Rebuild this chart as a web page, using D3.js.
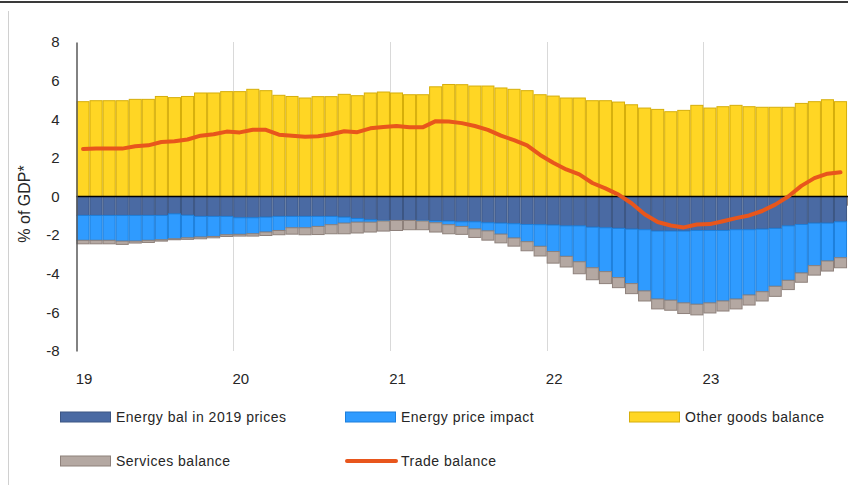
<!DOCTYPE html>
<html>
<head>
<meta charset="utf-8">
<script src="https://cdn.jsdelivr.net/npm/d3@7"></script>
<style>
    html, body { margin: 0; padding: 0; background: #fff; }
    svg { display: block; }
</style>
</head>
<body>
<div id="chart"></div>
<script>

const months = [
    '19-01', '19-02', '19-03', '19-04', '19-05', '19-06', '19-07', '19-08', '19-09', '19-10', '19-11', '19-12',
    '20-01', '20-02', '20-03', '20-04', '20-05', '20-06', '20-07', '20-08', '20-09', '20-10', '20-11', '20-12',
    '21-01', '21-02', '21-03', '21-04', '21-05', '21-06', '21-07', '21-08', '21-09', '21-10', '21-11', '21-12',
    '22-01', '22-02', '22-03', '22-04', '22-05', '22-06', '22-07', '22-08', '22-09', '22-10', '22-11', '22-12',
    '23-01', '23-02', '23-03', '23-04', '23-05', '23-06', '23-07', '23-08', '23-09', '23-10', '23-11', '23-12'
]

const yearLabels = ['19', '20', '21', '22', '23']
const yearStarts = ['19-01', '20-01', '21-01', '22-01', '23-01']
const yTicks = [-8, -6, -4, -2, 0, 2, 4, 6, 8]

const energy2019 = [
    -0.98, -0.98, -0.98, -0.98, -0.98, -0.98, -0.98, -0.90, -0.97, -1.03, -1.03, -1.03,
    -1.10, -1.10, -1.07, -1.03, -1.03, -1.03, -1.03, -1.03, -1.07, -1.14, -1.21, -1.24,
    -1.24, -1.24, -1.24, -1.27, -1.27, -1.31, -1.31, -1.36, -1.38, -1.41, -1.45, -1.46,
    -1.48, -1.52, -1.52, -1.59, -1.62, -1.65, -1.69, -1.72, -1.79, -1.79, -1.79, -1.76,
    -1.76, -1.76, -1.72, -1.72, -1.69, -1.65, -1.52, -1.45, -1.38, -1.38, -1.31, null
]

const priceImpact = [
    -1.29, -1.29, -1.29, -1.33, -1.33, -1.29, -1.26, -1.29, -1.17, -1.07, -1.04, -0.95,
    -0.86, -0.83, -0.77, -0.73, -0.59, -0.59, -0.52, -0.43, -0.31, -0.19, -0.12, -0.03,
    0, 0, -0.03, -0.09, -0.19, -0.24, -0.37, -0.42, -0.57, -0.74, -0.89, -1.12,
    -1.37, -1.58, -1.86, -2.10, -2.27, -2.55, -2.82, -3.17, -3.52, -3.58, -3.72, -3.82,
    -3.75, -3.65, -3.59, -3.38, -3.24, -3.00, -2.82, -2.51, -2.20, -1.96, -1.86, null
]

const otherGoods = [
    4.91, 4.96, 4.96, 4.96, 5.03, 5.03, 5.18, 5.12, 5.18, 5.36, 5.36, 5.43,
    5.43, 5.55, 5.48, 5.24, 5.18, 5.10, 5.17, 5.17, 5.29, 5.22, 5.36, 5.41,
    5.36, 5.27, 5.27, 5.68, 5.80, 5.79, 5.72, 5.72, 5.62, 5.55, 5.48, 5.27,
    5.20, 5.10, 5.10, 4.96, 4.96, 4.89, 4.75, 4.58, 4.51, 4.39, 4.46, 4.72,
    4.58, 4.65, 4.72, 4.65, 4.62, 4.62, 4.62, 4.82, 4.91, 5.01, 4.91, null
]

const services = [
    -0.18, -0.18, -0.18, -0.17, -0.10, -0.11, -0.07, -0.05, -0.08, -0.09, -0.07, -0.09,
    -0.09, -0.12, -0.18, -0.22, -0.33, -0.36, -0.42, -0.47, -0.55, -0.56, -0.51, -0.52,
    -0.52, -0.48, -0.45, -0.48, -0.47, -0.41, -0.44, -0.48, -0.45, -0.42, -0.47, -0.50,
    -0.60, -0.55, -0.62, -0.62, -0.62, -0.52, -0.52, -0.52, -0.51, -0.52, -0.55, -0.55,
    -0.52, -0.52, -0.51, -0.52, -0.48, -0.52, -0.48, -0.48, -0.49, -0.52, -0.52, -0.45
]

const tradeBalance = [
    2.46, 2.48, 2.48, 2.48, 2.60, 2.65, 2.82, 2.86, 2.95, 3.15, 3.22, 3.36,
    3.32, 3.46, 3.45, 3.20, 3.15, 3.10, 3.12, 3.22, 3.38, 3.33, 3.53, 3.60,
    3.65, 3.58, 3.58, 3.90, 3.88, 3.80, 3.65, 3.45, 3.15, 2.92, 2.65, 2.15,
    1.75, 1.40, 1.15, 0.70, 0.42, 0.10, -0.35, -0.92, -1.32, -1.50, -1.60, -1.45,
    -1.43, -1.28, -1.12, -0.98, -0.75, -0.42, 0.00, 0.55, 0.95, 1.18, 1.25, null
]

const seriesNames = ['Energy bal in 2019 prices', 'Energy price impact', 'Other goods balance', 'Services balance', 'Trade balance']

const colors = {
    energy2019: { fill: '#4a6aa3', stroke: '#3c5684' },
    priceImpact: { fill: '#2f9bff', stroke: '#1c7fdc' },
    otherGoods: { fill: '#ffd624', stroke: '#d6ae0a' },
    services: { fill: '#b4a8a2', stroke: '#8e817b' },
    trade: '#e8561c'
}

const fontStack = '"Liberation Sans", Arial, sans-serif'

document.addEventListener('DOMContentLoaded', function() {
    drawChart()
})

function drawChart() {
    const width = 848
    const height = 485

    const plotLeft = 76.5
    const plotTop = 42
    const plotBottom = 351
    const monthWidth = 13.06

    const svg = d3.select('#chart').append('svg')
        .attr('width', width)
        .attr('height', height)
        .style('font-family', fontStack)

    // frame bits
    svg.append('line')
        .attr('x1', 0).attr('x2', width)
        .attr('y1', 2).attr('y2', 2)
        .attr('stroke', '#3a3a3a')
        .attr('stroke-width', 2)

    svg.append('line')
        .attr('x1', 8.5).attr('x2', 8.5)
        .attr('y1', 11).attr('y2', height)
        .attr('stroke', '#d0d0d0')
        .attr('stroke-width', 1)

    const rows = months.map((m, i) => ({
        month: m,
        energy2019: energy2019[i],
        priceImpact: priceImpact[i],
        otherGoods: otherGoods[i],
        services: services[i],
        trade: tradeBalance[i]
    }))

    const x = d3.scaleBand()
        .domain(months)
        .range([plotLeft, plotLeft + months.length * monthWidth])
        .padding(0)

    const y = d3.scaleLinear()
        .domain([-8, 8])
        .range([plotBottom, plotTop])

    // year gridlines
    svg.append('g')
        .selectAll('line')
        .data(yearStarts.slice(1))
        .enter().append('line')
            .attr('x1', d => Math.round(x(d)) + 0.5)
            .attr('x2', d => Math.round(x(d)) + 0.5)
            .attr('y1', plotTop)
            .attr('y2', plotBottom)
            .attr('stroke', '#d9d9d9')
            .attr('stroke-width', 1)

    const keys = ['energy2019', 'priceImpact', 'otherGoods', 'services']

    const stack = d3.stack()
        .keys(keys)
        .value((d, key) => d[key] == null ? 0 : d[key])
        .offset(d3.stackOffsetDiverging)

    const stacked = stack(rows)

    const barGroups = svg.append('g')
        .selectAll('g')
        .data(stacked)
        .enter().append('g')
            .attr('fill', d => colors[d.key].fill)
            .attr('stroke', d => colors[d.key].stroke)
            .attr('stroke-width', 1)

    barGroups.selectAll('rect')
        .data(d => d.filter(p => p[1] !== p[0]))
        .enter().append('rect')
            .attr('x', d => x(d.data.month) + 0.5)
            .attr('width', x.bandwidth() - 1)
            .attr('y', d => y(Math.max(d[0], d[1])))
            .attr('height', d => Math.abs(y(d[0]) - y(d[1])))

    // zero line
    svg.append('line')
        .attr('x1', plotLeft)
        .attr('x2', width)
        .attr('y1', y(0))
        .attr('y2', y(0))
        .attr('stroke', '#000')
        .attr('stroke-width', 1.5)

    // trade balance
    const line = d3.line()
        .defined(d => d.trade != null)
        .x(d => x(d.month) + x.bandwidth() / 2)
        .y(d => y(d.trade))

    svg.append('path')
        .datum(rows)
        .attr('d', line)
        .attr('fill', 'none')
        .attr('stroke', colors.trade)
        .attr('stroke-width', 4)
        .attr('stroke-linejoin', 'round')
        .attr('stroke-linecap', 'round')

    // y axis
    const yAxis = d3.axisLeft(y)
        .tickValues(yTicks)
        .tickFormat(d => String(d))
        .tickSize(0)
        .tickPadding(17)

    const yAxisEl = svg.append('g')
        .attr('transform', `translate(${plotLeft},0)`)
        .call(yAxis)

    yAxisEl.select('.domain')
        .attr('stroke', '#595959')
        .attr('stroke-width', 1.5)

    yAxisEl.selectAll('text')
        .style('font-size', '15px')
        .style('font-family', fontStack)
        .attr('fill', '#262626')

    // x labels, one per year, on the January bar
    svg.append('g')
        .selectAll('text')
        .data(yearLabels)
        .enter().append('text')
            .attr('x', (d, i) => x(yearStarts[i]) + x.bandwidth() / 2 + 1)
            .attr('y', 384)
            .attr('text-anchor', 'middle')
            .style('font-size', '15px')
            .attr('fill', '#262626')
            .text(d => d)

    svg.append('text')
        .attr('transform', `translate(30, 204) rotate(-90)`)
        .attr('text-anchor', 'middle')
        .style('font-size', '16px')
        .attr('fill', '#262626')
        .text('% of GDP*')

    // legend
    const legendCols = [60, 345, 629]
    const legendRows = [417, 461]
    const legendItems = [
        { name: seriesNames[0], type: 'rect', color: colors.energy2019 },
        { name: seriesNames[1], type: 'rect', color: colors.priceImpact },
        { name: seriesNames[2], type: 'rect', color: colors.otherGoods },
        { name: seriesNames[3], type: 'rect', color: colors.services },
        { name: seriesNames[4], type: 'line', color: colors.trade }
    ]

    const legend = svg.append('g')
        .selectAll('g')
        .data(legendItems)
        .enter().append('g')
            .attr('transform', (d, i) => `translate(${legendCols[i % 3]}, ${legendRows[Math.floor(i / 3)]})`)

    legend.filter(d => d.type === 'rect').append('rect')
        .attr('x', 0.5)
        .attr('y', -5)
        .attr('width', 50)
        .attr('height', 10)
        .attr('fill', d => d.color.fill)
        .attr('stroke', d => d.color.stroke)

    legend.filter(d => d.type === 'line').append('line')
        .attr('x1', 2)
        .attr('x2', 51)
        .attr('y1', 0)
        .attr('y2', 0)
        .attr('stroke', d => d.color)
        .attr('stroke-width', 4)
        .attr('stroke-linecap', 'round')

    legend.append('text')
        .attr('x', 56)
        .attr('y', 0)
        .attr('dy', '0.35em')
        .style('font-size', '14px')
        .style('letter-spacing', '0.5px')
        .attr('fill', '#262626')
        .text(d => d.name)
}
</script>
</body>
</html>
